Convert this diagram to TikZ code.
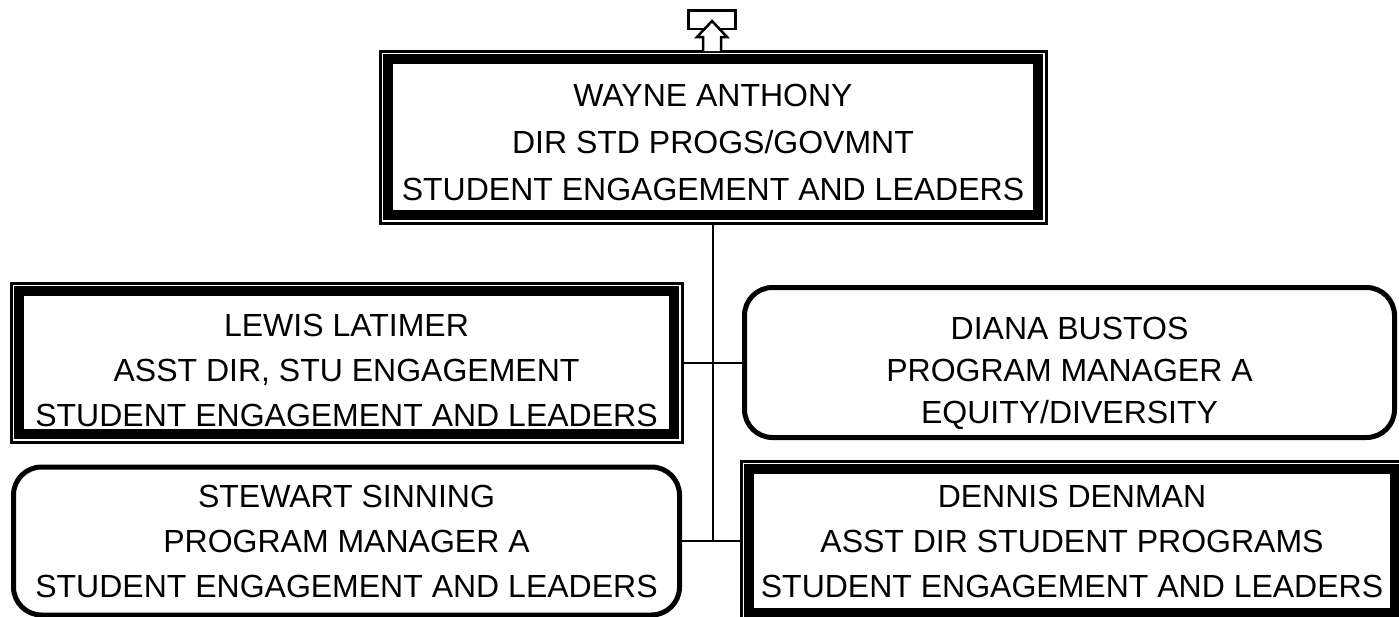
\documentclass[tikz,border=0pt]{standalone}
\usepackage{fontspec}
\setmainfont{Liberation Sans}
\usetikzlibrary{calc}

\begin{document}
\begin{tikzpicture}[x=1pt, y=-1pt,
  dblbox/.style={draw, line width=3pt, inner sep=0pt, align=center,
              font=\fontsize{32}{45}\selectfont},
  heavy/.style={line width=10pt},
  rbox/.style={draw, line width=5pt, rounded corners=28pt, inner sep=0pt,
              align=center, font=\fontsize{32}{45}\selectfont},
  drop/.style={execute at begin node={\rule{0pt}{#1}}},
  conn/.style={line width=2pt}
]
  \useasboundingbox (0,0) rectangle (1399,616);

  \node[dblbox, drop=127pt, font=\fontsize{32}{47}\selectfont,
        minimum width=666pt, minimum height=172pt] (wayne) at (713,137)
    {WAYNE ANTHONY\\DIR STD PROGS/GOVMNT\\STUDENT ENGAGEMENT AND LEADERS};
  \node[dblbox, drop=128pt, minimum width=671pt, minimum height=159pt] (lewis) at (346.5,362.5)
    {LEWIS LATIMER\\ASST DIR, STU ENGAGEMENT\\STUDENT ENGAGEMENT AND LEADERS};
  \node[rbox, drop=128pt, font=\fontsize{32}{42}\selectfont,
        minimum width=650pt, minimum height=150pt] (diana) at (1069.5,362.5)
    {DIANA BUSTOS\\PROGRAM MANAGER A\\EQUITY/DIVERSITY};
  \node[rbox, minimum width=666pt, minimum height=148pt] (stewart) at (346.5,541)
    {STEWART SINNING\\PROGRAM MANAGER A\\STUDENT ENGAGEMENT AND LEADERS};
  \node[dblbox, minimum width=662pt, minimum height=160pt] (dennis) at (1072,541)
    {DENNIS DENMAN\\ASST DIR STUDENT PROGRAMS\\STUDENT ENGAGEMENT AND LEADERS};

  % inner heavy frame of the double boxes
  \foreach \n in {wayne, lewis, dennis}
    \draw[heavy] ([shift={(9.5pt,-9.5pt)}]\n.north west) rectangle ([shift={(-9.5pt,9.5pt)}]\n.south east);

  % up arrow above the top box
  \draw[line width=2.5pt] (688.5,10.5) rectangle (735.5,29);
  \draw[line width=2.5pt, fill=white] (703,51) -- (703,37) -- (697,37) -- (712,21)
    -- (727,37) -- (721,37) -- (721,51);

  \coordinate (hub) at (wayne.south |- stewart.east);
  \draw[conn] (wayne.south) -- (hub);
  \draw[conn] (lewis) -- (diana);
  \draw[conn] (stewart) -- (dennis);
\end{tikzpicture}
\end{document}
